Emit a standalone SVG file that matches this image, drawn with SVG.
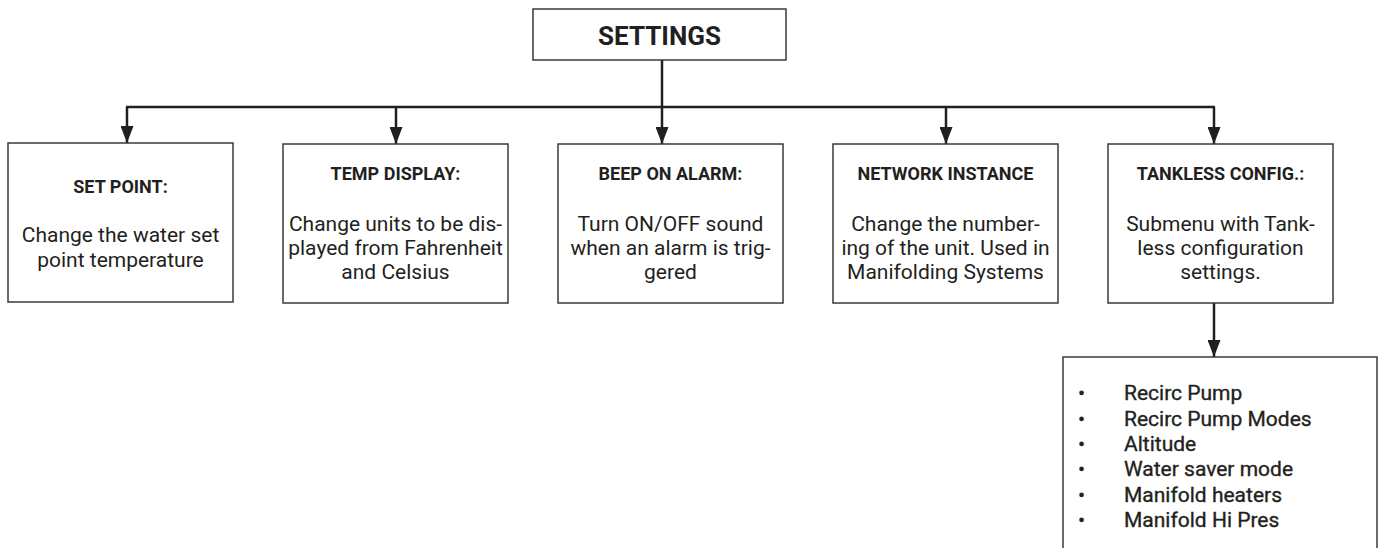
<svg xmlns="http://www.w3.org/2000/svg" width="1387" height="548" viewBox="0 0 1387 548">
<defs>
<marker id="ah" markerUnits="userSpaceOnUse" markerWidth="17" markerHeight="13" refX="17" refY="6.5" orient="auto">
<path d="M0,0 L17,6.5 L0,13 z" fill="#231f20"/>
</marker>
<style>
.box{fill:#fff;stroke:#3a3a3a;stroke-width:1.5}
.con{fill:none;stroke:#231f20;stroke-width:2.5}
.t{font-family:Roboto,"Liberation Sans",sans-serif;fill:#231f20;text-anchor:middle}
.h{font-size:18px;font-weight:bold}
.b{font-size:21px}
.top{font-size:26px;font-weight:bold}
.li{font-family:Roboto,"Liberation Sans",sans-serif;fill:#231f20;font-size:21px;font-weight:normal;stroke:#231f20;stroke-width:0.35}
</style>
</defs>
<rect width="1387" height="548" fill="#fff"/>
<g id="connectors">
<line class="con" x1="662" y1="60" x2="662" y2="107"/>
<line class="con" x1="126" y1="107" x2="1215" y2="107"/>
<line class="con" x1="127" y1="107" x2="127" y2="143" marker-end="url(#ah)"/>
<line class="con" x1="396" y1="107" x2="396" y2="144" marker-end="url(#ah)"/>
<line class="con" x1="662" y1="107" x2="662" y2="144" marker-end="url(#ah)"/>
<line class="con" x1="946" y1="107" x2="946" y2="144" marker-end="url(#ah)"/>
<line class="con" x1="1214" y1="107" x2="1214" y2="144" marker-end="url(#ah)"/>
<line class="con" x1="1214" y1="303" x2="1214" y2="357" marker-end="url(#ah)"/>
</g>
<g id="settings">
<rect class="box" x="533" y="9" width="253" height="51"/>
<text class="t top" x="659.5" y="45">SETTINGS</text>
</g>
<g id="set-point">
<rect class="box" x="8" y="143" width="225" height="159"/>
<text class="t h" x="120.5" y="193">SET POINT:</text>
<text class="t b" x="120.5" y="242">Change the water set</text>
<text class="t b" x="120.5" y="267">point temperature</text>
</g>
<g id="temp-display">
<rect class="box" x="283" y="144" width="225" height="159"/>
<text class="t h" x="395.5" y="180">TEMP DISPLAY:</text>
<text class="t b" x="395.5" y="231">Change units to be dis-</text>
<text class="t b" x="395.5" y="255">played from Fahrenheit</text>
<text class="t b" x="395.5" y="279">and Celsius</text>
</g>
<g id="beep-on-alarm">
<rect class="box" x="558" y="144" width="225" height="159"/>
<text class="t h" x="670.5" y="180">BEEP ON ALARM:</text>
<text class="t b" x="670.5" y="231">Turn ON/OFF sound</text>
<text class="t b" x="670.5" y="255">when an alarm is trig-</text>
<text class="t b" x="670.5" y="279">gered</text>
</g>
<g id="network-instance">
<rect class="box" x="833" y="144" width="225" height="159"/>
<text class="t h" x="945.5" y="180">NETWORK INSTANCE</text>
<text class="t b" x="945.5" y="231">Change the number-</text>
<text class="t b" x="945.5" y="255">ing of the unit. Used in</text>
<text class="t b" x="945.5" y="279">Manifolding Systems</text>
</g>
<g id="tankless-config">
<rect class="box" x="1108" y="144" width="225" height="159"/>
<text class="t h" x="1220.5" y="180">TANKLESS CONFIG.:</text>
<text class="t b" x="1220.5" y="231">Submenu with Tank-</text>
<text class="t b" x="1220.5" y="255">less configuration</text>
<text class="t b" x="1220.5" y="279">settings.</text>
</g>
<g id="tankless-submenu">
<rect class="box" x="1063" y="357" width="314" height="220"/>
<g class="li">
<text x="1078" y="400">•</text><text x="1124" y="400">Recirc Pump</text>
<text x="1078" y="425.5">•</text><text x="1124" y="425.5">Recirc Pump Modes</text>
<text x="1078" y="451">•</text><text x="1124" y="451">Altitude</text>
<text x="1078" y="476">•</text><text x="1124" y="476">Water saver mode</text>
<text x="1078" y="501.5">•</text><text x="1124" y="501.5">Manifold heaters</text>
<text x="1078" y="527">•</text><text x="1124" y="527">Manifold Hi Pres</text>
</g>
</g>
</svg>
